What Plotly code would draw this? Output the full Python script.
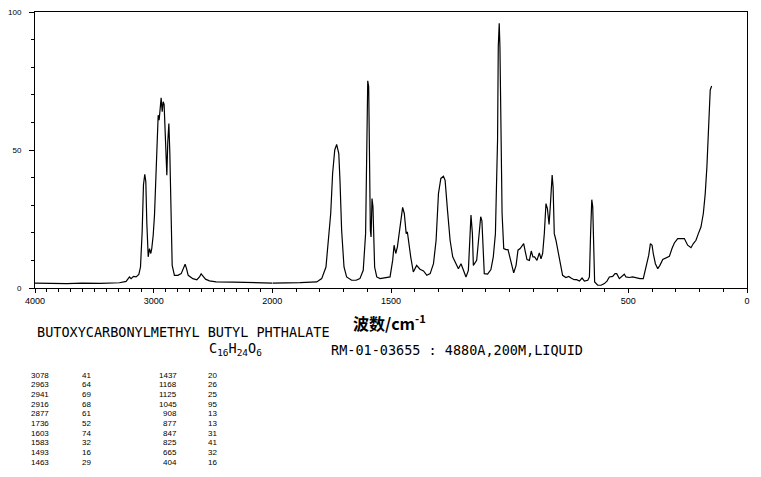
import plotly.graph_objects as go

# ---------------- data ----------------
wavenumber = [
    4000, 3900, 3733, 3600, 3452, 3288, 3232, 3204, 3190, 3170, 3148, 3125, 3111,
    3097, 3086, 3075, 3066, 3058, 3046, 3035, 3024, 3016, 3004, 2993, 2982, 2971,
    2962, 2954, 2945, 2937, 2928, 2920, 2912, 2900, 2889, 2881, 2872, 2864, 2855,
    2844, 2825, 2796, 2768, 2749, 2735, 2723, 2709, 2670, 2636, 2614, 2600, 2586,
    2563, 2530, 2473, 2329, 2048, 2000,
    1954, 1883, 1813, 1792, 1774, 1764, 1754, 1746, 1737, 1729, 1720, 1715, 1708,
    1698, 1687, 1666, 1647, 1631, 1617, 1607, 1603, 1598, 1594, 1591, 1587, 1584,
    1580, 1576, 1569, 1560, 1546, 1504, 1493, 1487, 1480, 1473, 1462, 1451, 1444,
    1436, 1431, 1424, 1417, 1406, 1392, 1378, 1363, 1349, 1335, 1321, 1310, 1300,
    1290, 1279, 1272, 1262, 1251, 1240, 1226, 1216, 1205, 1195, 1184, 1174, 1167,
    1163, 1157, 1153, 1139, 1127, 1122, 1117, 1112, 1107, 1093, 1079, 1069, 1060,
    1055, 1051, 1048, 1044, 1041, 1037, 1032, 1025, 1015, 1007, 999, 990, 983,
    973, 965, 956, 948, 941, 934, 927, 917, 909, 902, 895, 885, 875, 868, 861,
    854, 847, 841, 834, 829, 825, 821, 817, 812, 805, 795, 786, 777, 763, 751,
    740, 728, 718, 706, 695, 685, 671, 664, 659, 654, 650, 646, 642, 629, 615,
    601, 590, 580, 566, 556, 549, 538, 527, 517, 510, 496, 482, 468, 451, 437,
    426, 414, 407, 400, 395, 386, 376, 367, 355, 341, 327, 316, 306, 292, 278,
    264, 250, 236, 226, 215, 205, 194, 184, 176, 169, 163, 159, 155, 149,
]
intensity = [
    1.8, 1.7, 1.6, 1.8, 1.7, 1.9, 2.4, 4.0, 3.4, 4.2, 4.0, 4.9, 7.6,
    20.3, 37.3, 41.2, 38.5, 23.9, 11.3, 14.3, 12.5, 14.3, 19.1, 26.4, 40.9, 56.6,
    62.6, 60.8, 66.3, 68.9, 63.9, 67.5, 66.5, 55.4, 40.9, 53.0, 59.6, 49.3, 26.4,
    8.2, 4.6, 4.6, 5.2, 7.0, 8.6, 7.0, 4.6, 3.4, 3.0, 4.0, 5.1, 4.4,
    3.2, 2.6, 2.2, 2.1, 1.8, 1.8,
    1.8, 1.95, 2.2, 3.4, 7.6, 16.1, 27.0, 41.5, 50.0, 52.0, 48.7, 39.0, 20.9,
    7.6, 4.0, 2.8, 2.8, 3.4, 6.4, 19.7, 52.4, 75.1, 72.9, 36.6, 20.9, 18.5,
    32.4, 29.4, 7.6, 4.0, 3.4, 4.0, 10.0, 15.5, 12.5, 14.9, 22.1, 29.2, 27.0,
    19.7, 20.3, 14.9, 11.3, 5.8, 8.2, 6.8, 6.2, 4.6, 5.2, 8.8, 17.3, 34.2,
    39.7, 40.5, 39.0, 28.2, 17.3, 11.3, 8.8, 7.0, 8.8, 6.4, 4.0, 6.4, 17.3,
    26.4, 19.7, 8.2, 10.0, 20.3, 25.8, 24.3, 14.9, 5.2, 5.0, 6.7, 11.3, 19.7,
    39.0, 53.6, 87.4, 95.9, 87.4, 50.0, 27.0, 14.3, 13.9, 13.9, 11.3, 8.8, 5.5,
    8.2, 13.7, 14.3, 15.5, 16.1, 13.1, 10.3, 10.0, 13.4, 11.3, 11.3, 10.0, 12.7, 10.6, 12.5,
    19.7, 30.6, 28.8, 23.0, 29.4, 36.6, 40.9, 36.6, 19.7, 17.3, 12.5, 8.2, 4.6, 3.8, 4.2,
    3.5, 3.0, 3.0, 2.5, 3.6, 2.5, 2.8, 4.0, 19.7, 32.0, 29.4, 10.0, 2.2, 1.0, 1.0,
    1.6, 2.5, 4.0, 4.2, 5.2, 5.2, 3.4, 4.2, 5.0, 4.0, 3.8, 4.0, 3.6, 3.4, 3.4,
    7.0, 11.9, 16.1, 15.5, 12.5, 8.8, 7.0, 8.2, 10.3, 10.9, 11.5, 14.3, 16.3, 17.9, 18.0,
    17.9, 15.5, 14.6, 16.1, 17.3, 19.7, 22.1, 27.0, 34.2, 43.9, 54.8, 64.5, 71.7, 73.2,
]

x_ticks_left = [4000, 3000, 2000]      # half-scale region 4000-2000
x_ticks_right = [1500, 500, 0]         # full-scale region 2000-0
y_ticks = [0, 50, 100]

x_title = "<b>波数/cm<sup>-1</sup></b>"
compound = "BUTOXYCARBONYLMETHYL BUTYL PHTHALATE"
formula = "C<sub>16</sub>H<sub>24</sub>O<sub>6</sub>"
record = "RM-01-03655 : 4880A,200M,LIQUID"

peak_wn_1 = [3078, 2963, 2941, 2916, 2877, 1736, 1603, 1583, 1493, 1463]
peak_int_1 = [41, 64, 69, 68, 61, 52, 74, 32, 16, 29]
peak_wn_2 = [1437, 1168, 1125, 1045, 908, 877, 847, 825, 665, 404]
peak_int_2 = [20, 26, 25, 95, 13, 13, 31, 41, 32, 16]

# ---------------- figure ----------------
# the page body adds an 8px margin, so the figure is sized to fit inside the window
OFF = 8
W, H = 761 - 2 * OFF, 477 - 2 * OFF
L, T = 35 - OFF, 12 - OFF
PW, PH = 712, 276
R = W - L - PW
B = H - T - PH

hi = [(w, v) for w, v in zip(wavenumber, intensity) if w >= 2000]
lo = [(w, v) for w, v in zip(wavenumber, intensity) if w <= 2000]

line = dict(color="black", width=1.2)
fig = go.Figure()
fig.add_trace(go.Scatter(x=[p[0] for p in hi], y=[p[1] for p in hi], mode="lines",
                         line=line, xaxis="x", yaxis="y", hoverinfo="skip"))
fig.add_trace(go.Scatter(x=[p[0] for p in lo], y=[p[1] for p in lo], mode="lines",
                         line=line, xaxis="x2", yaxis="y2", hoverinfo="skip"))

NARROW = "Liberation Sans Narrow, Liberation Sans, sans-serif"
tickfont = dict(family=NARROW, size=9, color="black")
common_x = dict(showline=True, linecolor="black", linewidth=1, mirror=True,
                ticks="outside", ticklen=4, tickcolor="black", tickwidth=1,
                showgrid=False, zeroline=False, tickfont=tickfont, tickmode="array",
                automargin=False, ticklabeloverflow="allow",
                minor=dict(dtick=100, tick0=0, ticks="outside", ticklen=3,
                           tickcolor="black", tickwidth=1, showgrid=False))

fig.update_layout(
    template="none",
    width=W, height=H, autosize=False,
    margin=dict(l=L, r=R, t=T, b=B, pad=0, autoexpand=False),
    paper_bgcolor="white", plot_bgcolor="white",
    showlegend=False,
    xaxis=dict(domain=[0, 1 / 3], range=[4000, 2000], anchor="y",
               tickvals=x_ticks_left, ticktext=[str(v) for v in x_ticks_left], **common_x),
    xaxis2=dict(domain=[1 / 3, 1], range=[2000, 0], anchor="y2",
                tickvals=x_ticks_right, ticktext=[str(v) for v in x_ticks_right], **common_x),
    yaxis=dict(domain=[0, 1], range=[0, 100], anchor="x", showline=True,
               linecolor="black", linewidth=1, mirror=False, automargin=False,
               ticks="outside", ticklen=5, tickcolor="black", tickwidth=1,
               tickmode="array", tickvals=y_ticks, ticktext=[str(v) for v in y_ticks],
               tickfont=dict(family=NARROW, size=8, color="black"),
               showgrid=False, zeroline=False, ticklabelstandoff=6,
               ticklabeloverflow="allow",
               minor=dict(dtick=10, tick0=0, ticks="outside", ticklen=3,
                          tickcolor="black", tickwidth=1, showgrid=False)),
    yaxis2=dict(domain=[0, 1], matches="y", range=[0, 100], anchor="x2", side="right",
                showline=True, linecolor="black", linewidth=1, ticks="", automargin=False,
                showticklabels=False, showgrid=False, zeroline=False),
)

MONO = "DejaVu Sans Mono, Liberation Mono, monospace"


def note(text, x_px, y_px, xanchor="left", size=13, family=MONO, align="left"):
    # x_px / y_px are window pixel positions
    fig.add_annotation(text=text, xref="paper", yref="paper",
                       x=(x_px - OFF - L) / PW, y=(H - B - (y_px - OFF)) / PH,
                       xanchor=xanchor, yanchor="middle", align=align,
                       showarrow=False, font=dict(family=family, size=size, color="black"))


note(x_title, 389, 322, xanchor="center", size=16, family="Noto Sans CJK SC")
note(compound, 35, 332, size=13.5)
note(formula, 207, 349, size=13.5)
note(record, 329, 350, size=13.5)

for i in range(len(peak_wn_1)):
    yy = 375 + 9.7 * i
    note(str(peak_wn_1[i]), 51, yy, xanchor="right", size=8, family=NARROW)
    note(str(peak_int_1[i]), 93, yy, xanchor="right", size=8, family=NARROW)
    note(str(peak_wn_2[i]), 179, yy, xanchor="right", size=8, family=NARROW)
    note(str(peak_int_2[i]), 219, yy, xanchor="right", size=8, family=NARROW)

fig.write_html("out.html")
